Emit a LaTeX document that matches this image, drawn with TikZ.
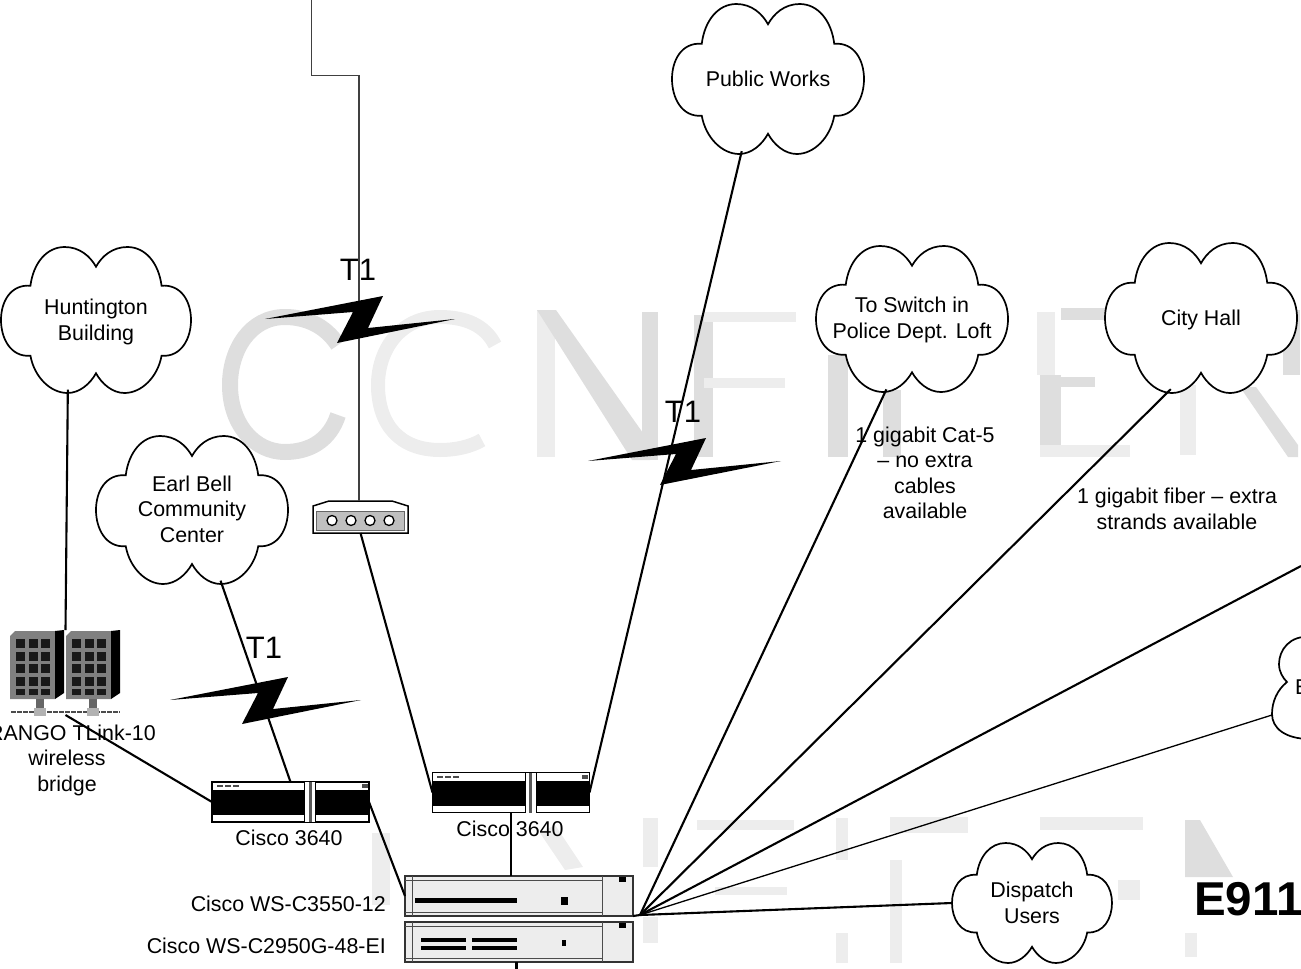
\documentclass[tikz,border=0pt]{standalone}
\usepackage{fontspec}
\setmainfont{Liberation Sans}
\usetikzlibrary{shapes.geometric}
\definecolor{wmark}{gray}{0.87}
\definecolor{wmarkb}{gray}{0.93}
\tikzset{
  x=1pt,y=-1pt,
  wmstroke/.style={draw=wmark,line width=16pt},
  wmfill/.style={fill=wmark,draw=none},
  wmfaint/.style={fill=wmarkb,draw=none},
  cloudline/.style={draw=black,fill=white,line width=1.7pt},
  cloudb/.style={ellipse,inner sep=0pt,outer sep=0pt},
  lbl/.style={font=\fontsize{21.4}{25.5}\selectfont,align=center,inner sep=0pt,text=black},
  tone/.style={font=\fontsize{31}{31}\selectfont,inner sep=0pt},
  link/.style={draw=black,line width=2.1pt},
  thinlink/.style={draw=black!75,line width=1.3pt},
  rtbox/.style={draw=black,line width=1.5pt,fill=white,minimum width=157pt,minimum height=40pt,inner sep=0pt,outer sep=0pt},
  swbox/.style={draw=black!80,line width=1.3pt,fill=black!7,minimum width=228pt,minimum height=40pt,inner sep=0pt,outer sep=0pt},
  modembox/.style={inner sep=0pt,outer sep=0pt,minimum width=95pt,minimum height=32pt},
  bldg/.style={inner sep=0pt,outer sep=0pt,minimum width=111pt,minimum height=85pt},
  bolt/.style={fill=black,draw=none},
}
\newcommand{\mycloud}[7]{%
  \draw[cloudline,shift={(#2,#3)},xscale=#4,yscale=#5]
    (0,-.73) .. controls (.06,-.87) and (.17,-1) .. (.33,-1)
    .. controls (.52,-1) and (.66,-.78) .. (.69,-.47)
    .. controls (.9,-.49) and (1,-.25) .. (1,0)
    .. controls (1,.25) and (.9,.51) .. (.69,.49)
    .. controls (.65,.78) and (.48,1) .. (.3,1)
    .. controls (.17,1) and (.06,.87) .. (0,.73)
    .. controls (-.06,.87) and (-.17,1) .. (-.3,1)
    .. controls (-.48,1) and (-.65,.78) .. (-.69,.49)
    .. controls (-.9,.51) and (-1,.25) .. (-1,0)
    .. controls (-1,-.25) and (-.9,-.49) .. (-.69,-.47)
    .. controls (-.66,-.78) and (-.52,-1) .. (-.33,-1)
    .. controls (-.17,-1) and (-.06,-.87) .. (0,-.73) -- cycle;
  \node[cloudb,minimum width=2*#4 pt,minimum height=2*#5 pt,label={[lbl,yshift=#7 pt]center:{#6}}] (#1) at (#2,#3) {};
}
\newcommand{\myrouter}[3]{%
  \node[rtbox] (#1) at (#2,#3) {};
  \begin{scope}[shift={(#2,#3)}]
    \fill[black] (-78.5,-12) rectangle (78.5,13);
    \fill[white] (14,-20) rectangle (18,20);
    \fill[white] (21,-20) rectangle (25,20);
    \fill[black!65] (18,-20) rectangle (21,20);
    \draw[black,line width=1pt] (14,-20) -- (14,20) (25,-20) -- (25,20);
    \fill[black!70] (-74,-17) rectangle (-68,-15);
    \fill[black!70] (-66,-17) rectangle (-60,-15);
    \fill[black!70] (-58,-17) rectangle (-52,-15);
    \fill[black!70] (71,-18) rectangle (77,-14);
  \end{scope}
}
\newcommand{\myswitch}[3]{%
  \node[swbox] (#1) at (#2,#3) {};
  \begin{scope}[shift={(#2,#3)}]
    \draw[black!70,line width=1pt] (-114,-16) -- (83,-16) (-114,16) -- (83,16) (83,-20) -- (83,20) (-107,-20) -- (-107,20);
    \fill[black] (100,-19) rectangle (107,-14);
  \end{scope}
}
\newcommand{\mytower}[2]{%
  \begin{scope}[shift={(#1,#2)}]
    \fill[black!50] (0,5) -- (5,0) -- (45,0) -- (45,68) -- (0,68) -- cycle;
    \fill[black] (45,0) -- (54,-1) -- (54,62) -- (45,68) -- cycle;
    \foreach \c in {0,1,2}{
      \foreach \r in {0,1,2,3}{
        \fill[black!90] (6+\c*12.5,8+\r*12.5) rectangle ++(9,9);
      }
      \fill[black!90] (6+\c*12.5,58) rectangle ++(9,6);
    }
  \end{scope}
}
\begin{document}
\begin{tikzpicture}
\useasboundingbox (0,0) rectangle (1301,969);
% watermark fragments
\draw[wmstroke] (338,345) .. controls (325,325) and (305,317) .. (285,317)
  .. controls (250,317) and (230,350) .. (230,385)
  .. controls (230,425) and (255,452) .. (285,452)
  .. controls (310,452) and (330,440) .. (338,415);
\draw[wmstroke,draw=wmarkb,line width=14pt] (495,345) .. controls (485,325) and (465,317) .. (440,317)
  .. controls (400,317) and (378,350) .. (378,385)
  .. controls (378,425) and (400,450) .. (440,450)
  .. controls (455,450) and (470,447) .. (482,440);
\fill[wmfaint] (537,310) rectangle (555,457);
\fill[wmfill] (537,310) -- (556,310) -- (655,450) -- (650,460) -- (632,460) -- cycle;
\fill[wmfill] (642,312) rectangle (658,460);
\fill[wmfill] (694,315) rectangle (713,457);
\fill[wmfaint] (704,312) rectangle (796,322);
\fill[wmfaint] (704,378) rectangle (785,388);
\fill[wmfill] (828,355) rectangle (848,457);
\fill[wmfill] (883,390) rectangle (901,457);
\fill[wmfaint] (1037,312) rectangle (1055,375);
\fill[wmfill] (1040,375) rectangle (1061,457);
\fill[wmfill] (1061,308) rectangle (1105,320);
\fill[wmfill] (1040,377) rectangle (1095,387);
\fill[wmfaint] (1040,445) rectangle (1130,457);
\fill[wmfaint] (1180,385) rectangle (1196,455);
\fill[wmfill] (1283,310) rectangle (1300,375);
\fill[wmfill] (1240,387) -- (1256,387) -- (1298,445) -- (1298,457) -- (1288,457) -- cycle;
\fill[wmfaint] (372,833) rectangle (390,905);
\fill[wmfaint] (540,833) -- (555,825) -- (583,867) -- (565,870) -- cycle;
\fill[wmfaint] (643,818) rectangle (658,867);
\fill[wmfaint] (643,917) rectangle (658,943);
\fill[wmfaint] (697,820) rectangle (794,830);
\fill[wmfaint] (715,887) rectangle (787,895);
\fill[wmfaint] (836,818) rectangle (848,860);
\fill[wmfaint] (836,933) rectangle (848,963);
\fill[wmfaint] (890,817) rectangle (968,833);
\fill[wmfaint] (890,860) rectangle (902,963);
\fill[wmfaint] (1040,817) rectangle (1143,830);
\fill[wmfill] (1185,820) -- (1200,820) -- (1233,877) -- (1185,877) -- cycle;
\fill[wmfaint] (1185,933) rectangle (1197,957);
\fill[wmfaint] (1118,880) rectangle (1140,900);
% free ends
\coordinate (topend) at (311.5,0);
\coordinate (bendA) at (311.5,75.5);
\coordinate (bendB) at (359,75.5);
\coordinate (offright) at (1301,566);
\coordinate (hub) at (640,915);
\coordinate (botend) at (516.5,969);
% clouds
\mycloud{pw}{768}{79}{96}{75}{Public Works}{0}
\mycloud{hunt}{96}{320}{95}{73}{Huntington\\Building}{-2}
\mycloud{earl}{192}{510}{96}{74}{Earl Bell\\Community\\Center}{1}
\mycloud{police}{912}{319}{96}{73}{To Switch in\\Police Dept. Loft}{-1}
\mycloud{city}{1201}{318}{96}{75}{City Hall}{-1.5}
\mycloud{disp}{1032}{903}{80}{60}{Dispatch\\Users}{0}
\draw[cloudline] (1310,637) .. controls (1290,635) and (1279,650) .. (1279,664)
  .. controls (1279,672) and (1283,678) .. (1287,682)
  .. controls (1277,690) and (1272,702) .. (1272,714)
  .. controls (1272,728) and (1285,739) .. (1310,739);
\coordinate (ecloud) at (1272,715);
\node[lbl,anchor=west] (etext) at (1295,687) {E};
% devices
\myrouter{rone}{290.5}{802}
\myrouter{rtwo}{511}{792.5}
\myswitch{swone}{519}{896}
\myswitch{swtwo}{519}{942}
\fill[black] (415,898) rectangle (517,903);
\fill[black] (561,897) rectangle (568,905);
\fill[black] (421,938) rectangle (466,942);
\fill[black] (421,946) rectangle (466,950);
\fill[black] (472,938) rectangle (517,942);
\fill[black] (472,946) rectangle (517,950);
\fill[black] (562,940) rectangle (566,946);
% modem
\node[modembox] (modem) at (360.5,517) {};
\draw[black,line width=1.5pt,fill=white] (313,533) -- (313,506) -- (329,501) -- (392,501) -- (408,506) -- (408,533) -- cycle;
\draw[black!60,line width=1pt,fill=black!25] (316,511) rectangle (404,530);
\foreach \mx in {332,351,370,389}{\draw[black,line width=1.3pt,fill=white] (\mx,520.5) circle[radius=5];}
% buildings
\node[bldg] (bridge) at (65.5,672.5) {};
\mytower{10}{631}
\mytower{66}{631}
\draw[black!70,line width=2.5pt,dash pattern=on 5pt off 1pt] (11,712) -- (120,712);
\fill[black!60] (36,699) rectangle (44,708);
\fill[black!60] (89,699) rectangle (97,708);
\fill[black!30] (34,708) rectangle (46,716);
\fill[black!30] (87,708) rectangle (99,716);
% connectors
\draw[thinlink] (topend) -- (bendA) -- (bendB) -- (bendB |- modem.north);
\draw[link] (modem.south) -- (rtwo.west);
\draw[link] (pw.250) -- (rtwo.east);
\draw[link] (hunt.248) -- (bridge.north);
\draw[link] (bridge.south) -- (rone.west);
\draw[link] (earl.292) -- (rone.north);
\draw[link] (rone.east) -- (swone.west);
\draw[link] (rtwo.south) -- (rtwo.south |- swone.north);
\draw[link] (swone.south east) -- (hub);
\draw[link] (hub) -- (police.250);
\draw[link] (hub) -- (city.247);
\draw[link] (hub) -- (offright);
\draw[thinlink,draw=black] (hub) -- (ecloud);
\draw[link] (hub) -- (disp.west);
\draw[link] (botend) -- (botend |- swtwo.south);
% lightning
\fill[bolt] (265,319) -- (383,296) -- (368,328) -- (455,319) -- (337,343) -- (353,312) -- cycle;
\fill[bolt] (588,461) -- (706,438) -- (691,470) -- (781,461) -- (660,485) -- (676,454) -- cycle;
\fill[bolt] (170,700) -- (288,677) -- (273,709) -- (361,700) -- (242,724) -- (258,693) -- cycle;
% labels
\node[tone] (tone) at (358,270) {T1};
\node[tone] (ttwo) at (683,412) {T1};
\node[tone] (tthree) at (264,648) {T1};
\node[lbl,anchor=east] (rango) at (156,733) {RANGO TLink-10};
\node[lbl] (wless) at (67,773) {wireless\\bridge};
\node[lbl] (cone) at (289,838) {Cisco 3640};
\node[lbl] (ctwo) at (510,829) {Cisco 3640};
\node[lbl,anchor=east] (cthree) at (386,904) {Cisco WS-C3550-12};
\node[lbl,anchor=east] (cfour) at (386,946) {Cisco WS-C2950G-48-EI};
\node[lbl] (cat) at (925,473) {1 gigabit Cat-5\\– no extra\\cables\\available};
\node[lbl] (fiber) at (1177,509) {1 gigabit fiber – extra\\strands available};
\node[font=\bfseries\fontsize{47.5}{47.5}\selectfont,anchor=west,inner sep=0pt] (title) at (1194,899) {E911};
\end{tikzpicture}
\end{document}
